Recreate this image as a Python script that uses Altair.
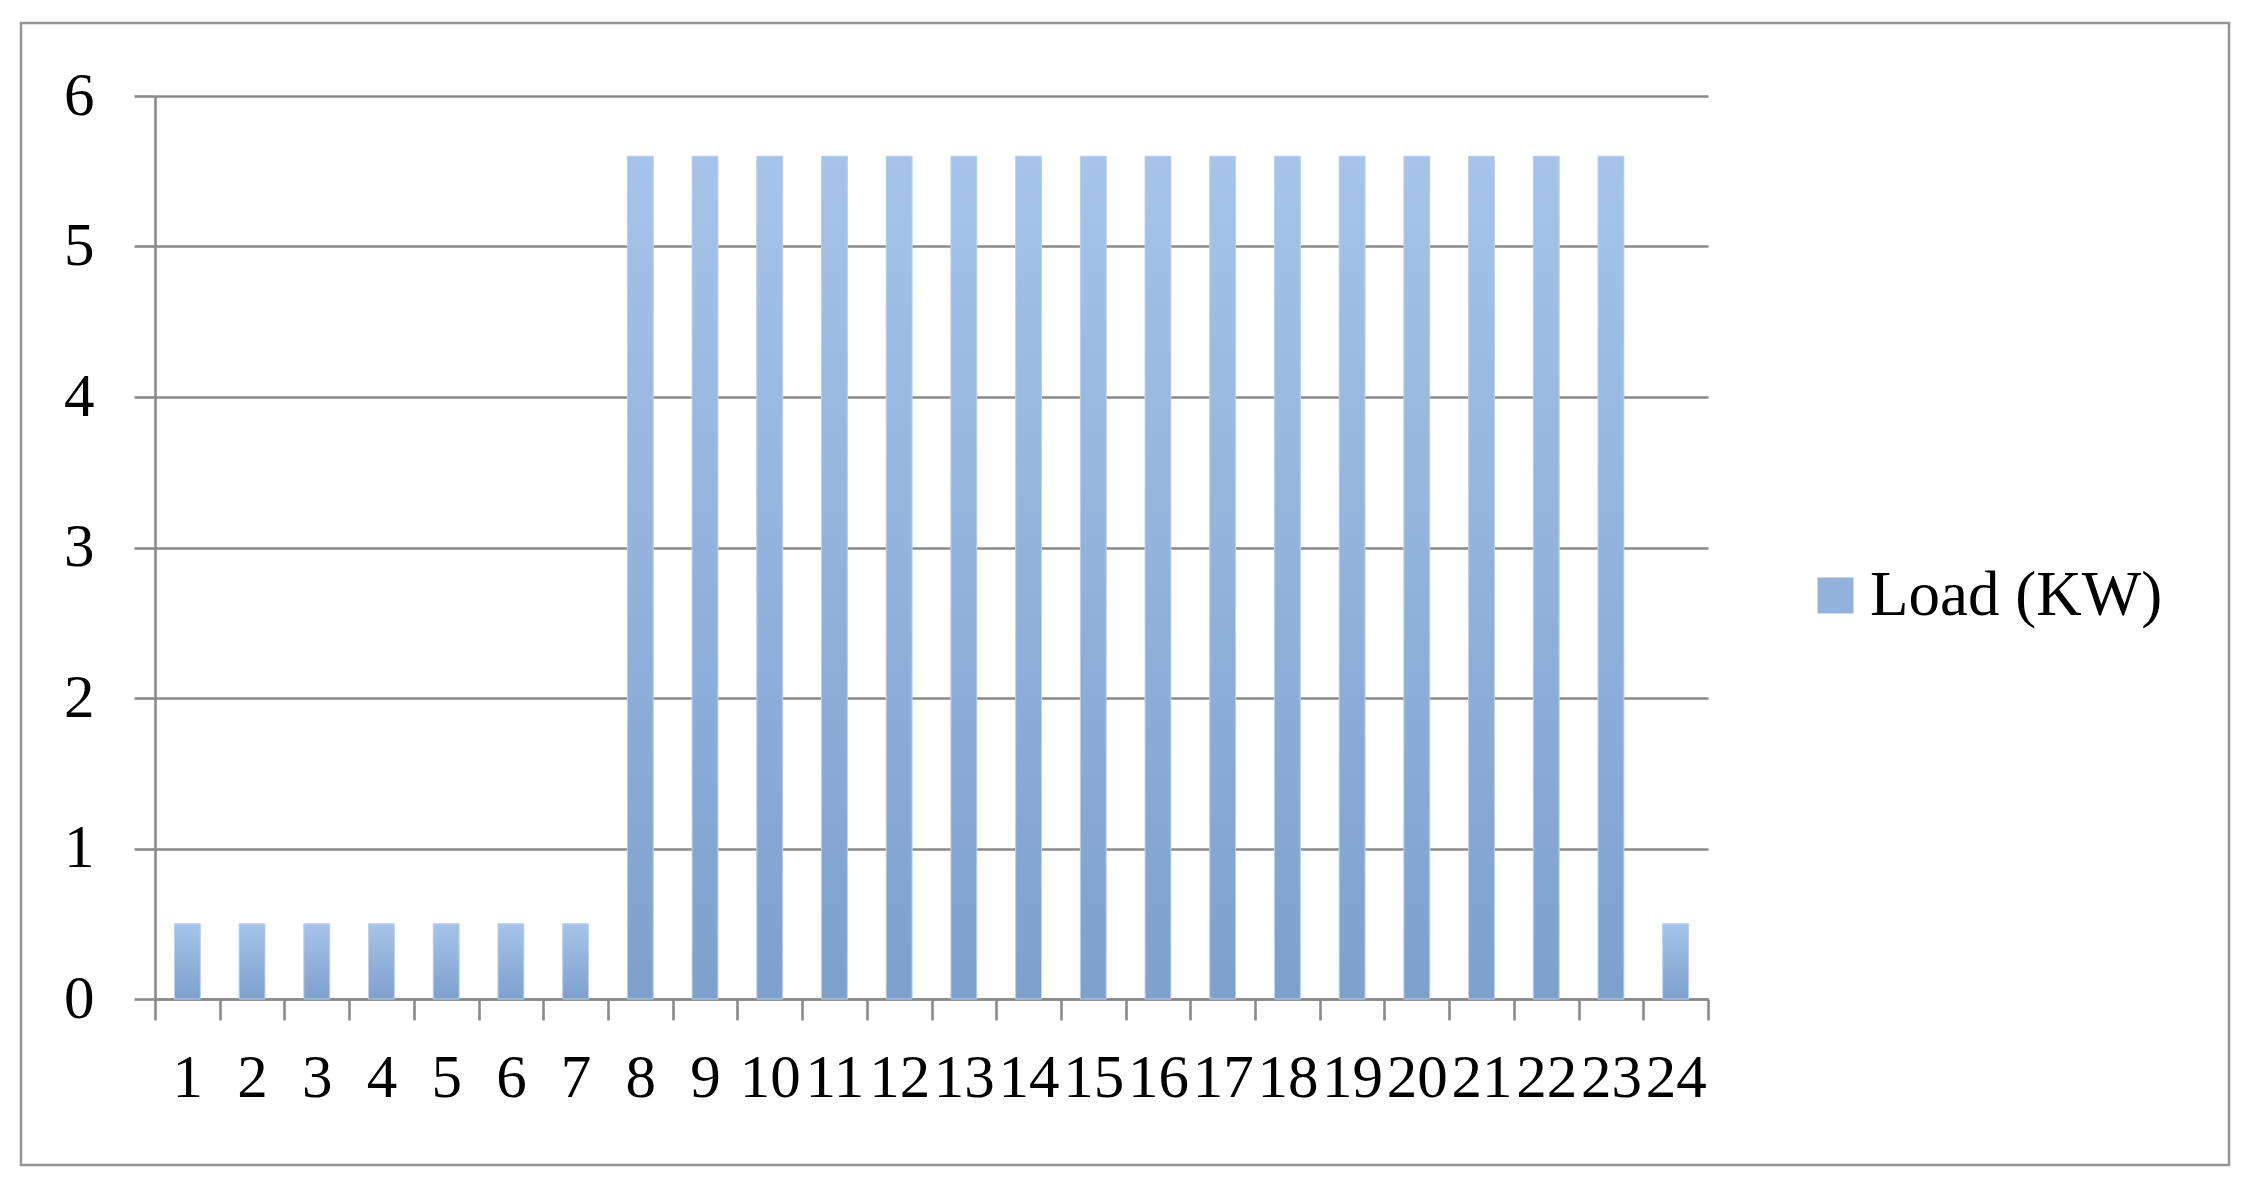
import altair as alt
import pandas as pd

# ---- data ----
hours = list(range(1, 25))
load_kw = [0.5, 0.5, 0.5, 0.5, 0.5, 0.5, 0.5,
           5.6, 5.6, 5.6, 5.6, 5.6, 5.6, 5.6, 5.6,
           5.6, 5.6, 5.6, 5.6, 5.6, 5.6, 5.6, 5.6,
           0.5]
series_name = "Load (KW)"
y_ticks = [0, 1, 2, 3, 4, 5, 6]

df = pd.DataFrame({"hour": hours, "load": load_kw, "series": [series_name] * len(hours)})

FONT = "Liberation Serif"
GRAY = "#8a8a8a"
FS = 61
LW = 2.6

gradient = {
    "gradient": "linear",
    "x1": 0, "y1": 0, "x2": 0, "y2": 1,
    "stops": [
        {"offset": 0, "color": "#a6c4e9"},
        {"offset": 1, "color": "#7da0cd"},
    ],
}

x_enc = alt.X(
    "hour:O",
    scale=alt.Scale(paddingInner=0, paddingOuter=0),
    axis=alt.Axis(
        title=None, labelAngle=0, tickBand="extent", grid=False,
        tickSize=21, tickColor=GRAY, tickWidth=LW,
        domainColor=GRAY, domainWidth=LW,
        labelFont=FONT, labelFontSize=FS, labelColor="black",
        labelPadding=28, labelOverlap=False, labelFlush=False,
    ),
)
y_enc = alt.Y(
    "load:Q",
    scale=alt.Scale(domain=[0, 6], nice=False),
    axis=alt.Axis(
        title=None, values=y_ticks, format="d",
        tickSize=21, tickColor=GRAY, tickWidth=LW,
        domainColor=GRAY, domainWidth=LW,
        gridColor=GRAY, gridWidth=LW,
        labelFont=FONT, labelFontSize=FS, labelColor="black",
        labelPadding=40,
    ),
)

frame = alt.Chart(alt.Data(values=[{}])).mark_rect(
    fill="white", fillOpacity=0, stroke="#959595", strokeWidth=2.5
).encode(
    x=alt.value(-134), x2=alt.value(2074),
    y=alt.value(-73), y2=alt.value(1069),
)

legend_bars = alt.Chart(df).mark_bar(width={"band": 0.4}).encode(
    x=x_enc,
    y=y_enc,
    color=alt.Color(
        "series:N",
        scale=alt.Scale(range=["#93b3dc"]),
        legend=alt.Legend(
            title=None, orient="none", legendX=1649, legendY=468,
            symbolType="square", symbolSize=1296, symbolStrokeWidth=0,
            labelFont=FONT, labelFontSize=63, labelColor="black",
            labelOffset=3, labelLimit=600, padding=0,
        ),
    ),
)

grad_bars = alt.Chart(df).mark_bar(
    width={"band": 0.4}, color=gradient, stroke="#bfd2ec", strokeWidth=1
).encode(x=x_enc, y=y_enc)

chart = alt.layer(frame, legend_bars, grad_bars).properties(
    width=1553, height=903,
    autosize=alt.AutoSizeParams(type="none"),
    padding={"left": 147, "top": 88, "right": 524, "bottom": 168},
    background="white",
).configure_view(stroke=None)

chart.save("out.html", embed_options={"renderer": "svg", "actions": False})
